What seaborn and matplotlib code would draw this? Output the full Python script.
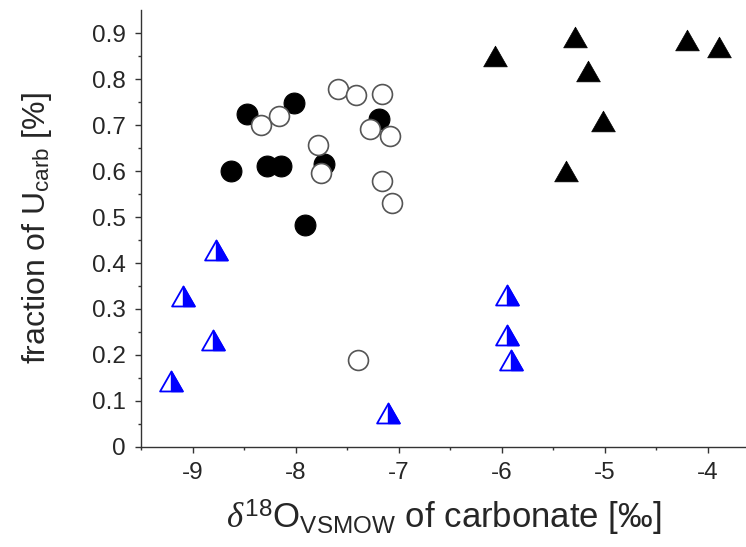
import numpy as np
import pandas as pd
import matplotlib
matplotlib.use("Agg")
import matplotlib.pyplot as plt
from matplotlib.path import Path
import seaborn as sns

# ---- data ----
filled_circle_x = [-8.63, -8.47, -8.02, -8.28, -8.14, -7.72, -7.91, -7.19]
filled_circle_y = [0.600, 0.724, 0.749, 0.612, 0.612, 0.616, 0.482, 0.714]

open_circle_x = [-8.34, -8.16, -7.59, -7.41, -7.16, -7.78, -7.75, -7.28, -7.08, -7.16, -7.06, -7.39]
open_circle_y = [0.701, 0.720, 0.780, 0.766, 0.767, 0.658, 0.595, 0.691, 0.677, 0.578, 0.530, 0.189]

black_tri_x = [-6.07, -5.29, -5.16, -5.02, -5.38, -4.20, -3.89]
black_tri_y = [0.850, 0.892, 0.818, 0.710, 0.600, 0.885, 0.870]

blue_tri_x = [-8.77, -9.09, -8.80, -9.21, -7.10, -5.95, -5.95, -5.91]
blue_tri_y = [0.429, 0.329, 0.232, 0.143, 0.074, 0.331, 0.243, 0.189]

x_ticks = [-9, -8, -7, -6, -5, -4]
x_minor_ticks = [-9.5, -8.5, -7.5, -6.5, -5.5, -4.5]
y_ticks = [0, 0.1, 0.2, 0.3, 0.4, 0.5, 0.6, 0.7, 0.8, 0.9]
y_minor_ticks = [0.05, 0.15, 0.25, 0.35, 0.45, 0.55, 0.65, 0.75, 0.85]
y_tick_labels = ["0", "0.1", "0.2", "0.3", "0.4", "0.5", "0.6", "0.7", "0.8", "0.9"]

sns.set_style("ticks")
plt.rcParams["font.family"] = ["Liberation Sans", "DejaVu Sans"]
plt.rcParams["mathtext.fontset"] = "custom"
plt.rcParams["mathtext.rm"] = "Liberation Sans"
plt.rcParams["mathtext.it"] = "Liberation Serif:italic"
plt.rcParams["axes.unicode_minus"] = False

fig = plt.figure(figsize=(7.46, 5.47), dpi=100)
ax = fig.add_axes([0.189, 0.1834, 0.811, 0.7983])

# marker shapes
tri = Path([(-1, -0.875), (1, -0.875), (0, 0.875), (-1, -0.875)],
           [Path.MOVETO, Path.LINETO, Path.LINETO, Path.CLOSEPOLY])
half_tri = Path([(0, -0.875), (1, -0.875), (0, 0.875), (0, -0.875)],
                [Path.MOVETO, Path.LINETO, Path.LINETO, Path.CLOSEPOLY])

df_fc = pd.DataFrame({"x": filled_circle_x, "y": filled_circle_y})
df_oc = pd.DataFrame({"x": open_circle_x, "y": open_circle_y})
df_bt = pd.DataFrame({"x": black_tri_x, "y": black_tri_y})
df_ht = pd.DataFrame({"x": blue_tri_x, "y": blue_tri_y})

sns.scatterplot(data=df_fc, x="x", y="y", ax=ax, marker="o", s=225,
                color="black", edgecolor="black", linewidth=0.8, zorder=3)
sns.scatterplot(data=df_oc, x="x", y="y", ax=ax, marker="o", s=205,
                facecolor="white", edgecolor="#555555", linewidth=1.2, zorder=4)
sns.scatterplot(data=df_bt, x="x", y="y", ax=ax, marker=tri, s=290,
                color="black", edgecolor="black", linewidth=0.5, zorder=3)
sns.scatterplot(data=df_ht, x="x", y="y", ax=ax, marker=tri, s=270,
                facecolor="white", edgecolor="#0000ff", linewidth=1.3, zorder=3)
sns.scatterplot(data=df_ht, x="x", y="y", ax=ax, marker=half_tri, s=270,
                color="#0000ff", edgecolor="#0000ff", linewidth=1.0, zorder=4)

ax.set_xlim(-9.5, -3.63)
ax.set_ylim(0, 0.951)
ax.set_xticks(x_ticks)
ax.set_xticklabels([str(v) for v in x_ticks])
ax.set_xticks(x_minor_ticks, minor=True)
ax.set_yticks(y_ticks)
ax.set_yticklabels(y_tick_labels)
ax.set_yticks(y_minor_ticks, minor=True)

for side in ["top", "right"]:
    ax.spines[side].set_visible(False)
for side in ["left", "bottom"]:
    ax.spines[side].set_linewidth(1.0)
    ax.spines[side].set_color("#333333")

ax.tick_params(axis="both", which="major", direction="out", length=4.5, width=1.0,
               labelsize=17.5, color="#333333", pad=6.5)
ax.tick_params(axis="both", which="minor", direction="out", length=2.5, width=1.0,
               color="#333333")

ax.set_xlabel(r"$\delta^{18}$O$_{\mathrm{VSMOW}}$ of carbonate [‰]", fontsize=25, labelpad=10)
ax.set_ylabel(r"fraction of U$_{\mathrm{carb}}$ [%]", fontsize=23, labelpad=27)

fig.savefig("out.png", dpi=100)
